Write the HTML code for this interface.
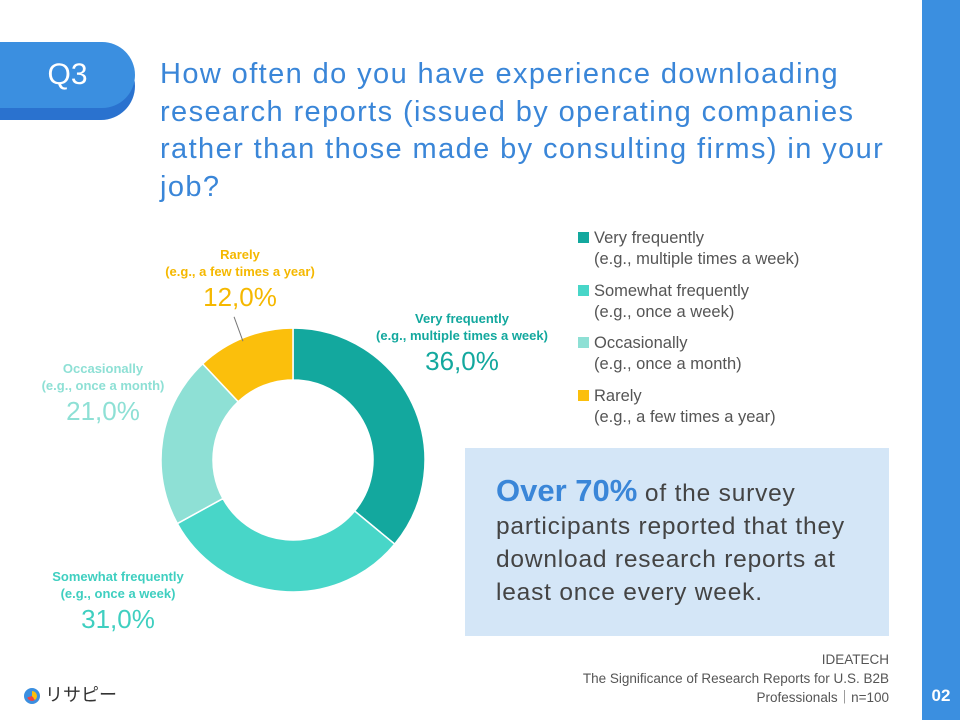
<!DOCTYPE html>
<html><head><meta charset="utf-8"><style>
body{margin:0;width:960px;height:720px;position:relative;background:#fff;font-family:"Liberation Sans","Noto Sans CJK JP",sans-serif;overflow:hidden}
.abs{position:absolute}
.lbl{position:absolute;text-align:center;font-weight:bold;font-size:13px;line-height:17px}
.pct{font-size:26px;font-weight:normal;line-height:34px}
.leg{position:absolute;left:578px;font-size:16.5px;color:#555;line-height:21px}
.sw{display:inline-block;width:11px;height:11px;margin-right:5px}
</style></head><body>
<div class="abs" style="left:922px;top:0;width:38px;height:720px;background:#3b8fe0"></div>
<div class="abs" style="left:922px;top:686px;width:38px;text-align:center;color:#fff;font-weight:bold;font-size:17px">02</div>
<div class="abs" style="left:0;top:52px;width:135px;height:68px;background:#2a72cf;border-radius:0 34px 34px 0"></div>
<div class="abs" style="left:0;top:42px;width:135px;height:66px;background:#3b8fe0;border-radius:0 33px 33px 0;color:#fff;font-size:30px;line-height:66px;text-align:center">Q3</div>
<div class="abs" style="left:160px;top:56px;width:755px;font-size:29px;line-height:37.5px;letter-spacing:1.4px;color:#3a86d8;white-space:nowrap">How often do you have experience downloading<br>research reports (issued by operating companies<br>rather than those made by consulting firms) in your<br>job?</div>
<svg class="abs" style="left:0;top:0" width="960" height="720"><g id="donut"></g></svg>
<div class="lbl" style="left:140px;top:246px;width:200px;color:#f5b800">Rarely<br>(e.g., a few times a year)<div class="pct">12,0%</div></div>
<div class="lbl" style="left:362px;top:310px;width:200px;color:#13a89e">Very frequently<br>(e.g., multiple times a week)<div class="pct">36,0%</div></div>
<div class="lbl" style="left:3px;top:360px;width:200px;color:#8ee0d5">Occasionally<br>(e.g., once a month)<div class="pct">21,0%</div></div>
<div class="lbl" style="left:18px;top:568px;width:200px;color:#3fcfc0">Somewhat frequently<br>(e.g., once a week)<div class="pct">31,0%</div></div>
<div class="abs" style="left:238px;top:316px;width:1px;height:26px;background:#777;transform:rotate(-20deg)"></div>
<div class="leg" style="top:228px"><span class="sw" style="background:#13a89e"></span>Very frequently<br><span style="margin-left:16px">(e.g., multiple times a week)</span></div>
<div class="leg" style="top:281px"><span class="sw" style="background:#48d6c8"></span>Somewhat frequently<br><span style="margin-left:16px">(e.g., once a week)</span></div>
<div class="leg" style="top:333px"><span class="sw" style="background:#8ee0d5"></span>Occasionally<br><span style="margin-left:16px">(e.g., once a month)</span></div>
<div class="leg" style="top:386px"><span class="sw" style="background:#fbbf0c"></span>Rarely<br><span style="margin-left:16px">(e.g., a few times a year)</span></div>
<div class="abs" style="left:465px;top:448px;width:424px;height:188px;background:#d4e6f7;box-sizing:border-box;padding:26px 0 0 31px;font-size:24.5px;line-height:33px;letter-spacing:0.8px;color:#444;white-space:nowrap"><span style="color:#3a86d8;font-weight:bold;font-size:31px;letter-spacing:0">Over 70%</span> of the survey<br>participants reported that they<br>download research reports at<br>least once every week.</div>
<div class="abs" style="left:500px;top:650px;width:389px;text-align:right;font-size:13.5px;line-height:19px;color:#555">IDEATECH<br>The Significance of Research Reports for U.S. B2B<br>Professionals｜n=100</div>
<div class="abs" style="left:24px;top:681px;font-size:18px;color:#333"><span style="display:inline-block;width:16px;height:16px;border:3px solid #3b8fe0;border-radius:50%;vertical-align:middle;box-sizing:border-box;background:conic-gradient(#fbbf0c 0 40%,#e44 0 70%,#3b8fe0 0)"></span> リサピー</div>
<script>
const categories=["Very frequently","Somewhat frequently","Occasionally","Rarely"];
const values=[36,31,21,12];
const colors=["#13a89e","#48d6c8","#8ee0d5","#fbbf0c"];
const cx=293,cy=460,R=132,r=80;
const g=document.getElementById('donut');
const total=values.reduce((a,b)=>a+b,0);
let a0=-Math.PI/2;
function pt(rad,a){return [cx+rad*Math.cos(a),cy+rad*Math.sin(a)];}
values.forEach((v,i)=>{
 const a1=a0+v/total*2*Math.PI;
 const large=(a1-a0)>Math.PI?1:0;
 const [x0,y0]=pt(R,a0),[x1,y1]=pt(R,a1),[x2,y2]=pt(r,a1),[x3,y3]=pt(r,a0);
 const p=document.createElementNS('http://www.w3.org/2000/svg','path');
 p.setAttribute('d',`M${x0},${y0}A${R},${R} 0 ${large} 1 ${x1},${y1}L${x2},${y2}A${r},${r} 0 ${large} 0 ${x3},${y3}Z`);
 p.setAttribute('fill',colors[i]);
 p.setAttribute('stroke','#fff');p.setAttribute('stroke-width','1.5');
 
 
 g.appendChild(p);
 a0=a1;
});
</script>
</body></html>
